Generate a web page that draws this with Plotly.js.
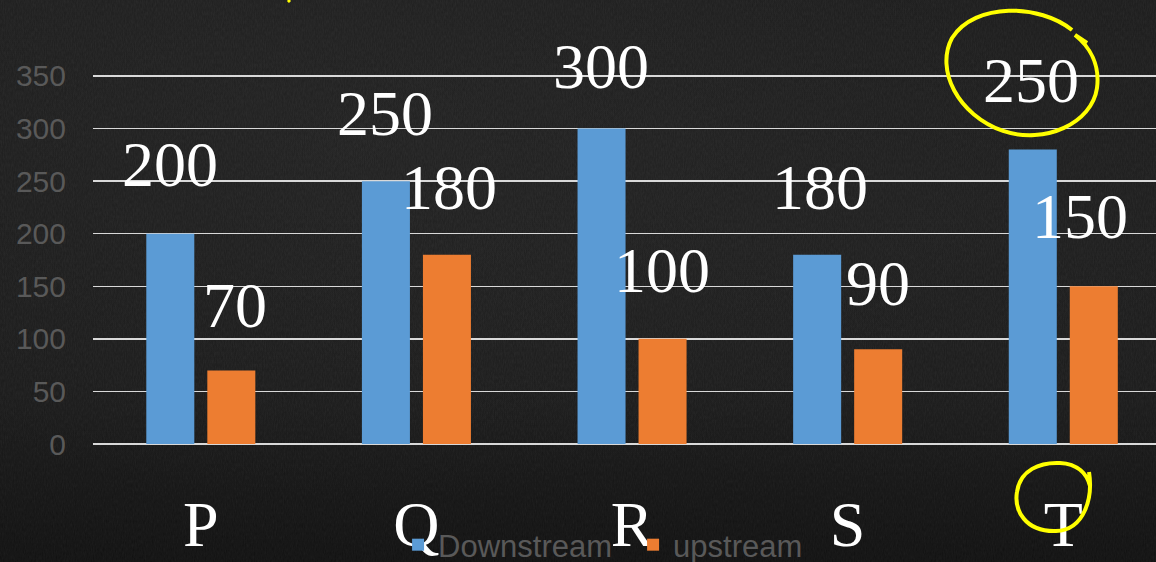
<!DOCTYPE html>
<html>
<head>
<meta charset="utf-8">
<script src="https://cdn.plot.ly/plotly-3.0.1.min.js"></script>
<style>
  html, body { margin: 0; padding: 0; width: 1156px; height: 562px; overflow: hidden; }
  body {
    background-color: #1a1a1a;
    background-image:
      url("data:image/svg+xml;utf8,<svg xmlns='http://www.w3.org/2000/svg' width='300' height='300'><filter id='n'><feTurbulence type='fractalNoise' baseFrequency='0.9 0.25' numOctaves='2' stitchTiles='stitch'/><feColorMatrix values='0 0 0 0 1  0 0 0 0 1  0 0 0 0 1  0 0 0 0.06 0'/></filter><rect width='300' height='300' filter='url(%23n)'/></svg>"),
      radial-gradient(ellipse at 30% 25%, rgba(50,50,50,0.25), rgba(0,0,0,0) 60%),
      radial-gradient(ellipse at 80% 40%, rgba(45,45,45,0.20), rgba(0,0,0,0) 55%),
      linear-gradient(to bottom, #1b1b1b 0%, #191919 70%, #0f0f0f 100%);
  }
  #chart { width: 1156px; height: 562px; }
</style>
</head>
<body>
<div id="chart"></div>
<script>
// ---- data ----
const categories = ['P', 'Q', 'R', 'S', 'T'];
const downstream = [200, 250, 300, 180, 280];
const upstream = [70, 180, 100, 90, 150];
const downstreamLabels = ['200', '250', '300', '180', '250'];
const upstreamLabels = ['70', '180', '100', '90', '150'];
const yTicks = [0, 50, 100, 150, 200, 250, 300, 350];

// ---- label placement (layout only) ----
const downLabelY = [266, 314, 359, 244, 346];
const upLabelY = [132, 244, 165, 153, 216];
const downLabelDx = [-31, -31, -31, -28, -32];
const upLabelDx = [34, 33, 30, 30, 17];

const W = 1156, H = 562;
const M = { l: 93, r: 0, t: 23, b: 118, autoexpand: false };
const plotW = W - M.l - M.r, plotH = H - M.t - M.b;
// pixel -> paper helpers for the hand-drawn marks
const px = x => ((x - M.l) / plotW).toFixed(4);
const py = y => ((H - M.b - y) / plotH).toFixed(4);
function pathFromPx(cmds) {
  return cmds.map(c => {
    if (typeof c === 'string') return c;
    return px(c[0]) + ',' + py(c[1]);
  }).join(' ');
}

const serif = '"Liberation Serif", "Times New Roman", serif';
const sans = '"Liberation Sans", Arial, sans-serif';

const traces = [
  {
    type: 'bar', name: 'Downstream', x: categories, y: downstream,
    marker: { color: '#5B9BD5' }, hoverinfo: 'x+y'
  },
  {
    type: 'bar', name: 'upstream', x: categories, y: upstream,
    marker: { color: '#ED7D31' }, hoverinfo: 'x+y'
  }
];

const annotations = [];
categories.forEach((c, i) => {
  annotations.push({
    x: c, y: downLabelY[i], xref: 'x', yref: 'y', text: downstreamLabels[i],
    showarrow: false, xshift: downLabelDx[i], xanchor: 'center', yanchor: 'middle',
    font: { family: serif, size: 64, color: '#ffffff' }
  });
  annotations.push({
    x: c, y: upLabelY[i], xref: 'x', yref: 'y', text: upstreamLabels[i],
    showarrow: false, xshift: upLabelDx[i], xanchor: 'center', yanchor: 'middle',
    font: { family: serif, size: 64, color: '#ffffff' }
  });
});

const yellow = '#FFFF00';
const shapes = [
  { // circle around the "250" of T
    type: 'path', xref: 'paper', yref: 'paper', layer: 'above',
    line: { color: yellow, width: 4 },
    path: pathFromPx(['M', [1072, 30], 'C', [1040, 4], [975, 2], [952, 38],
      'C', [935, 70], [958, 115], [1003, 131],
      'C', [1045, 145], [1092, 123], [1097, 88],
      'C', [1100, 65], [1090, 47], [1075, 35], 'L', [1087, 43]])
  },
  { // loop around T
    type: 'path', xref: 'paper', yref: 'paper', layer: 'above',
    line: { color: yellow, width: 4 },
    path: pathFromPx(['M', [1089, 472], 'C', [1093, 497], [1085, 530], [1056, 531],
      'C', [1025, 532], [1014, 510], [1017, 492],
      'C', [1020, 470], [1040, 462], [1060, 463],
      'C', [1078, 464], [1087, 474], [1090, 486]])
  },
  { // tiny yellow mark at top
    type: 'path', xref: 'paper', yref: 'paper', layer: 'above',
    line: { color: yellow, width: 3 },
    path: pathFromPx(['M', [288, 0], 'L', [290, 2]])
  }
];

const layout = {
  width: W, height: H,
  margin: M,
  paper_bgcolor: 'rgba(0,0,0,0)',
  plot_bgcolor: 'rgba(0,0,0,0)',
  barmode: 'group',
  bargap: 0.434,
  bargroupgap: 0.213,
  showlegend: true,
  legend: {
    orientation: 'h', x: 0.287, xanchor: 'left', y: -0.24, yanchor: 'middle',
    font: { family: sans, size: 31, color: '#595959' },
    bgcolor: 'rgba(0,0,0,0)', entrywidth: 190, entrywidthmode: 'pixels',
    itemclick: false, itemdoubleclick: false
  },
  xaxis: {
    type: 'category', range: [-0.5, 4.43], fixedrange: true,
    showgrid: false, zeroline: false, showline: false, ticks: '',
    tickfont: { family: serif, size: 64, color: '#ffffff' },
    ticklabelstandoff: 37
  },
  yaxis: {
    range: [0, 400.4], fixedrange: true,
    tickmode: 'array', tickvals: yTicks, ticktext: yTicks.map(String),
    showgrid: true, gridcolor: '#d9d9d9', gridwidth: 1.5,
    zeroline: true, zerolinecolor: '#d9d9d9', zerolinewidth: 1.5,
    showline: false, ticks: '',
    tickfont: { family: sans, size: 30, color: '#595959' },
    ticklabelstandoff: 26
  },
  annotations: annotations,
  shapes: shapes,
  hovermode: false
};

Plotly.newPlot('chart', traces, layout, { displayModeBar: false, staticPlot: true });
</script>
</body>
</html>
